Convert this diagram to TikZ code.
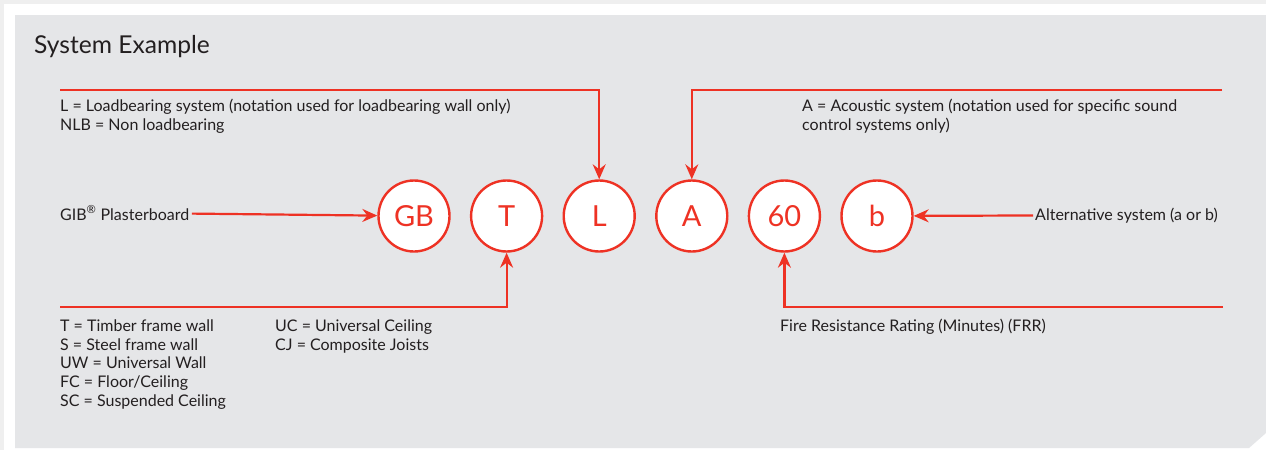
\documentclass[tikz,border=0pt]{standalone}
\usepackage{fontspec}
\setmainfont{Lato}
\usepackage{xcolor}
\definecolor{sys_red}{RGB}{238,50,36}
\definecolor{panel_gray}{RGB}{229,230,232}
\definecolor{page_gray}{RGB}{239,239,239}
\definecolor{ink}{RGB}{35,31,32}
\usepackage{tikz}
\usetikzlibrary{positioning, arrows.meta}
\tikzstyle{code} = [circle, minimum size=71pt, inner sep=0pt, draw=sys_red, line width=2.4pt,
                    fill=white, text=sys_red, font=\fontsize{29}{30}\selectfont]
\tikzstyle{note} = [anchor=base west, inner sep=0pt, align=left, text=ink,
                    font=\fontsize{16}{18.8}\selectfont]
\tikzstyle{arrow} = [line width=2.2pt, sys_red, -{Stealth[length=15pt, width=13pt, inset=5pt]}]

\begin{document}
\begin{tikzpicture}[x=1pt, y=-1pt, node distance=19.2pt]

    % page and panel
    \fill[page_gray] (0,0) rectangle (1266,450);
    \fill[white] (4,4) rectangle (1266,450);
    \fill[panel_gray] (15,15) -- (1266,15) -- (1266,433) -- (1249,448) -- (15,448) -- cycle;
    \useasboundingbox (0,0) rectangle (1266,450);

    \node[anchor=base west, inner sep=0pt, text=ink, font=\fontsize{24.6}{28}\selectfont] (title) at (34,53) {System Example};

    % code circles
    \node[code] (gb) at (414,216) {GB};
    \node[code] (t) [right= of gb] {T};
    \node[code] (l) [right= of t] {L};
    \node[code] (a) [right= of l] {A};
    \node[code] (frr) [right= of a] {60};
    \node[code] (b) [right= of frr] {b};

    % notes (base = last line)
    \node[note] (ltext) at (60,130.5) {L = Loadbearing system (notation used for loadbearing wall only)\\NLB = Non loadbearing};
    \node[note] (atext) at (802,130) {A = Acoustic system (notation used for specific sound\\control systems only)};
    \node[note, inner sep=2.5pt] (gibtext) at (57.5,220) {GIB\textsuperscript{®} Plasterboard};
    \node[note, inner sep=2pt] (alttext) at (1033,220) {Alternative system (a or b)};
    \node[note] (ttext) at (60,406.5) {T = Timber frame wall\\S = Steel frame wall\\UW = Universal Wall\\FC = Floor/Ceiling\\SC = Suspended Ceiling};
    \node[note] (uctext) at (275,350) {UC = Universal Ceiling\\CJ = Composite Joists};
    \node[note] (frrtext) at (780,331) {Fire Resistance Rating (Minutes) (FRR)};

    \coordinate (lstart) at (60,90);
    \coordinate (aend) at (1222,90);
    \coordinate (tstart) at (60,307);
    \coordinate (frrend) at (1223,307);

    \draw[arrow] (lstart) -| (l);
    \draw[arrow] (aend) -| (a);
    \draw[arrow] (tstart) -| (t);
    \draw[arrow] (frrend) -| (frr);
    \draw[arrow] (gibtext) to (gb);
    \draw[arrow] (alttext) to (b);

\end{tikzpicture}
\end{document}
